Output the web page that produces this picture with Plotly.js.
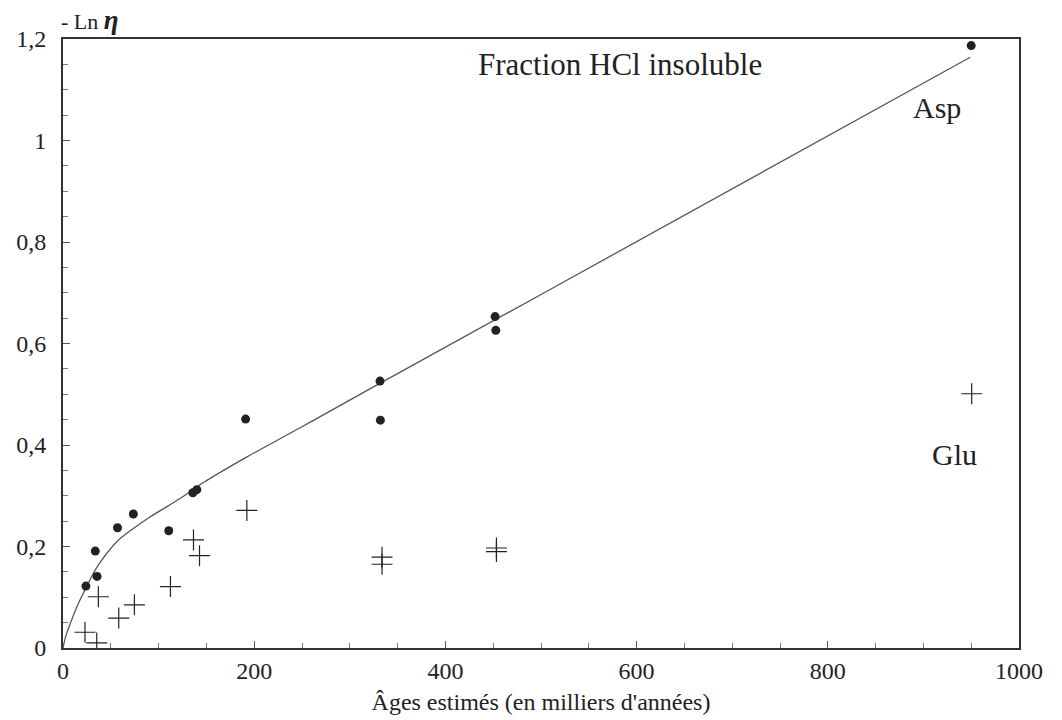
<!DOCTYPE html>
<html>
<head>
<meta charset="utf-8">
<script src="https://cdn.plot.ly/plotly-3.0.1.min.js"></script>
<style>html,body{margin:0;padding:0;background:#fff;}#chart{width:1062px;height:720px;}</style>
</head>
<body>
<div id="chart"></div>
<script>
// Asp (dots)
const aspAge = [24, 35.6, 33.8, 57, 73.6, 110.6, 135.8, 140, 191, 331.6, 332, 452, 452.7, 950];
const aspVal = [0.122, 0.141, 0.191, 0.237, 0.264, 0.231, 0.306, 0.312, 0.451, 0.526, 0.449, 0.653, 0.626, 1.187];
// Glu (crosses)
const gluAge = [23, 35.3, 37, 58.3, 74.7, 112.4, 136.5, 142.8, 192.3, 333.7, 333.7, 453.4, 453.4, 950.5];
const gluVal = [0.031, 0.010, 0.101, 0.059, 0.085, 0.121, 0.213, 0.182, 0.271, 0.179, 0.165, 0.197, 0.190, 0.501];
// Fitted curve
const fitAge = [0, 3, 7, 14, 21, 30, 39, 56, 74, 91, 110, 126, 147, 192, 248, 321.5, 510, 949];
const fitVal = [0, 0.024, 0.045, 0.079, 0.107, 0.141, 0.169, 0.209, 0.236, 0.258, 0.28, 0.299, 0.326, 0.376, 0.434, 0.511, 0.707, 1.164];
const xTicks = [0, 200, 400, 600, 800, 1000];
const xTickText = ["0", "200", "400", "600", "800", "1000"];
const yTicks = [0, 0.2, 0.4, 0.6, 0.8, 1, 1.2];
const yTickText = ["0", "0,2", "0,4", "0,6", "0,8", "1", "1,2"];

const serif = "Liberation Serif, Times New Roman, serif";
const ink = "#222";

const traces = [
  {x: fitAge, y: fitVal, mode: "lines", line: {color: "#555", width: 1.3, shape: "spline", smoothing: 1}, hoverinfo: "skip", showlegend: false},
  {x: aspAge, y: aspVal, mode: "markers", marker: {symbol: "circle", size: 9, color: ink}, name: "Asp", showlegend: false},
  {x: gluAge, y: gluVal, mode: "markers", marker: {symbol: "cross-thin-open", size: 15, color: ink, line: {color: ink, width: 1.2}}, name: "Glu", showlegend: false}
];

const axisCommon = {
  showline: true, mirror: true, linecolor: "#333", linewidth: 2,
  showgrid: false, zeroline: false,
  ticks: "inside", ticklen: 7, tickcolor: "#555", tickwidth: 1,
  tickfont: {family: serif, size: 24, color: ink}
};

const layout = {
  width: 1062, height: 720,
  paper_bgcolor: "#fff", plot_bgcolor: "#fff",
  margin: {l: 63, r: 43, t: 39, b: 72},
  xaxis: Object.assign({}, axisCommon, {
    range: [0, 1000], tickvals: xTicks, ticktext: xTickText,
    minor: {dtick: 50, ticks: "inside", ticklen: 5, tickcolor: "#777", showgrid: false},
    ticklabelstandoff: 0,
    title: {text: "Âges estimés (en milliers d'années)", font: {family: serif, size: 24, color: ink}, standoff: 10}
  }),
  yaxis: Object.assign({}, axisCommon, {
    range: [0, 1.2], tickvals: yTicks, ticktext: yTickText,
    minor: {dtick: 0.05, ticks: "inside", ticklen: 5, tickcolor: "#777", showgrid: false},
    ticklabelstandoff: 10
  }),
  annotations: [
    {text: "Fraction HCl insoluble", x: 0.583, y: 1.15, xref: "paper", yref: "y", showarrow: false, font: {family: serif, size: 31, color: ink}},
    {text: "Asp", x: 914, y: 1.066, xref: "x", yref: "y", showarrow: false, font: {family: serif, size: 30, color: ink}},
    {text: "Glu", x: 933, y: 0.381, xref: "x", yref: "y", showarrow: false, font: {family: serif, size: 30, color: ink}},
    {text: "- Ln <b><i><span style=\"font-size:27px\">η</span></i></b>", x: 0, y: 1, xref: "paper", yref: "paper", xanchor: "left", yanchor: "bottom", xshift: -4, yshift: 2, showarrow: false, font: {family: serif, size: 22, color: ink}}
  ]
};

Plotly.newPlot("chart", traces, layout, {displayModeBar: false, staticPlot: true});
</script>
</body>
</html>
